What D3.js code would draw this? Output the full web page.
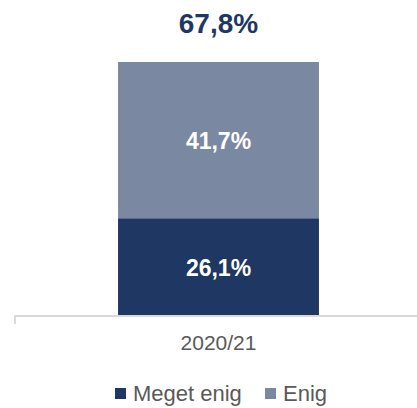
<!DOCTYPE html>
<html>
<head>
<meta charset="utf-8">
<script src="https://cdn.jsdelivr.net/npm/d3@7"></script>
<style>
  body { margin: 0; background: #fff; }
  text { font-family: "Liberation Sans", Arial, sans-serif; }
</style>
</head>
<body>
<div id="container"></div>
<script>
const categories = ["2020/21"];
const seriesNames = ["Meget enig", "Enig"];
const megetEnig = [26.1];
const enig = [41.7];
const colors = ["#1f3763", "#7b88a1"];

const width = 417;
const height = 408;

const svg = d3
  .select("#container")
  .append("svg")
  .attr("width", width)
  .attr("height", height);

const rows = categories.map((c, i) => ({
  category: c,
  "Meget enig": megetEnig[i],
  Enig: enig[i],
}));

const stack = d3.stack().keys(seriesNames)(rows);
const maxTotal = d3.max(rows, (d) => d["Meget enig"] + d.Enig);

const x = d3
  .scaleBand()
  .domain(categories)
  .range([15, 422])
  .paddingInner(0.339)
  .paddingOuter(0.339);

const y = d3.scaleLinear().domain([0, maxTotal]).range([316, 62]);

const fmt = (v) => v.toFixed(1).replace(".", ",") + "%";

// segments
stack.forEach((layer, li) => {
  svg
    .selectAll(".seg" + li)
    .data(layer)
    .enter()
    .append("rect")
    .attr("x", (d) => x(d.data.category))
    .attr("y", (d) => y(d[1]))
    .attr("width", x.bandwidth())
    .attr("height", (d) => y(d[0]) - y(d[1]))
    .style("fill", colors[li]);

  svg
    .selectAll(".lab" + li)
    .data(layer)
    .enter()
    .append("text")
    .attr("x", (d) => x(d.data.category) + x.bandwidth() / 2)
    .attr("y", (d) => (y(d[0]) + y(d[1])) / 2 + 8.5)
    .attr("text-anchor", "middle")
    .attr("fill", "#fff")
    .style("font-size", "23px")
    .style("font-weight", "bold")
    .text((d) => fmt(d[1] - d[0]));
});

// totals
svg
  .selectAll(".total")
  .data(rows)
  .enter()
  .append("text")
  .attr("x", (d) => x(d.category) + x.bandwidth() / 2)
  .attr("y", (d) => y(d["Meget enig"] + d.Enig) - 29)
  .attr("text-anchor", "middle")
  .attr("fill", "#1f3763")
  .style("font-size", "28px")
  .style("font-weight", "bold")
  .text((d) => fmt(d["Meget enig"] + d.Enig));

// x axis
const axis = svg
  .append("g")
  .attr("transform", "translate(0,316)")
  .call(d3.axisBottom(x).tickSize(0).tickPadding(19));
axis.select(".domain").attr("stroke", "#d9d9d9").attr("stroke-width", 2)
  .attr("d", "M15,8V0H422");
axis
  .selectAll("text")
  .attr("fill", "#595959")
  .attr("font-size", null)
  .style("font-size", "21px")
  .style("font-family", "'Liberation Sans', Arial, sans-serif");
axis.attr("font-size", 21);

// legend
const legend = svg.append("g").attr("transform", "translate(0,401)");
const legendX = [115, 265];
seriesNames.forEach((name, i) => {
  legend
    .append("rect")
    .attr("x", legendX[i])
    .attr("y", -13)
    .attr("width", 11)
    .attr("height", 11)
    .style("fill", colors[i]);
  legend
    .append("text")
    .attr("x", legendX[i] + 18)
    .attr("y", 0)
    .attr("fill", "#595959")
    .style("font-size", "22px")
    .text(name);
});
</script>
</body>
</html>
